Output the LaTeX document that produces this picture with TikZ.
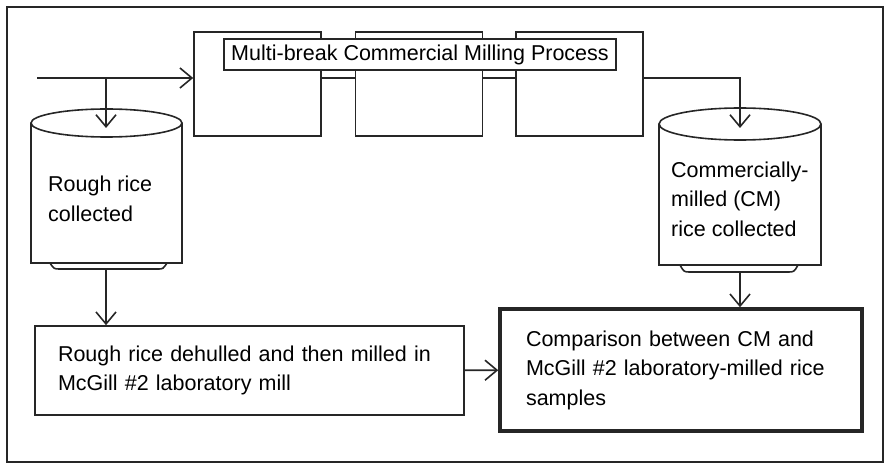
\documentclass[tikz,border=0pt]{standalone}
\usepackage{fontspec}
\setmainfont{Liberation Sans}
\usetikzlibrary{arrows.meta, positioning}

\begin{document}
\begin{tikzpicture}[
    x=1pt, y=-1pt,
    font=\fontsize{21.5}{29.5}\selectfont,
    line/.style={draw=black!85, line width=1.6pt},
    flow/.style={line, -{Straight Barb[length=12pt, width=20pt, line width=1.6pt]}},
    stepbox/.style={rectangle, line, minimum width=127pt, minimum height=104pt},
    procbox/.style={rectangle, line, align=left, inner xsep=23pt},
    store/.style={align=left, anchor=west, inner sep=0pt}
]

    % Frame
    \useasboundingbox (0,0) rectangle (886,465);
    \draw [draw=black!85, line width=1.8pt] (7,7) rectangle (883,462);

    % Milling steps
    \node (mill1) [stepbox] at (257.5, 84) {};
    \node (mill2) [stepbox, right=33pt of mill1] {};
    \node (mill3) [stepbox, right=32pt of mill2] {};
    \node (title) [rectangle, line, fill=white, minimum width=392pt, minimum height=31pt, inner sep=0pt] at (420, 54.5) {Multi-break Commercial Milling Process};

    % Storage cylinders
    \draw [line] (31,123) -- (31,263) -- (182,263) -- (182,123);
    \draw [line] (106.5,123) ellipse [x radius=75.5pt, y radius=14pt];
    \draw [line] (50,263) .. controls (54,269) .. (60,269) -- (158,269) .. controls (163,269) .. (167,263);
    \node (rough) [store] at (48,199) {Rough rice\\collected};

    \draw [line] (659,124) -- (659,265) -- (821,265) -- (821,124);
    \draw [line] (740,124) ellipse [x radius=81pt, y radius=16pt];
    \draw [line] (680,265) .. controls (684,272) .. (690,272) -- (788,272) .. controls (794,272) .. (798,265);
    \node (cmrice) [store] at (671,199) {Commercially-\\milled (CM)\\rice collected};

    \coordinate (feed) at (37,78);
    \coordinate (rough top) at (106,128);
    \coordinate (rough out) at (106,269);
    \coordinate (cm top) at (740,128);
    \coordinate (cm out) at (740,272);

    % Lab milling and comparison
    \node (lab) [procbox, text width=383pt, minimum height=89pt] at (249.5, 370.5) {Rough rice dehulled and then milled in\\McGill \#2 laboratory mill};
    \node (compare) [procbox, line width=3.5pt, inner xsep=26pt, text width=310pt, minimum height=122pt] at (681, 370) {Comparison between CM and\\McGill \#2 laboratory-milled rice\\samples};

    % Flows
    \draw [flow] (feed) -- (feed -| mill1.west);
    \draw [flow] (feed -| rough top) -- (rough top);
    \draw [line] (feed -| mill1.east) -- (feed -| mill2.west);
    \draw [line] (feed -| mill2.east) -- (feed -| mill3.west);
    \draw [flow] (feed -| mill3.east) -| (cm top);
    \draw [flow] (rough out) -- (rough out |- lab.north);
    \draw [flow] (cm out) -- (cm out |- compare.north);
    \draw [flow] (lab) -- (compare);

\end{tikzpicture}
\end{document}
